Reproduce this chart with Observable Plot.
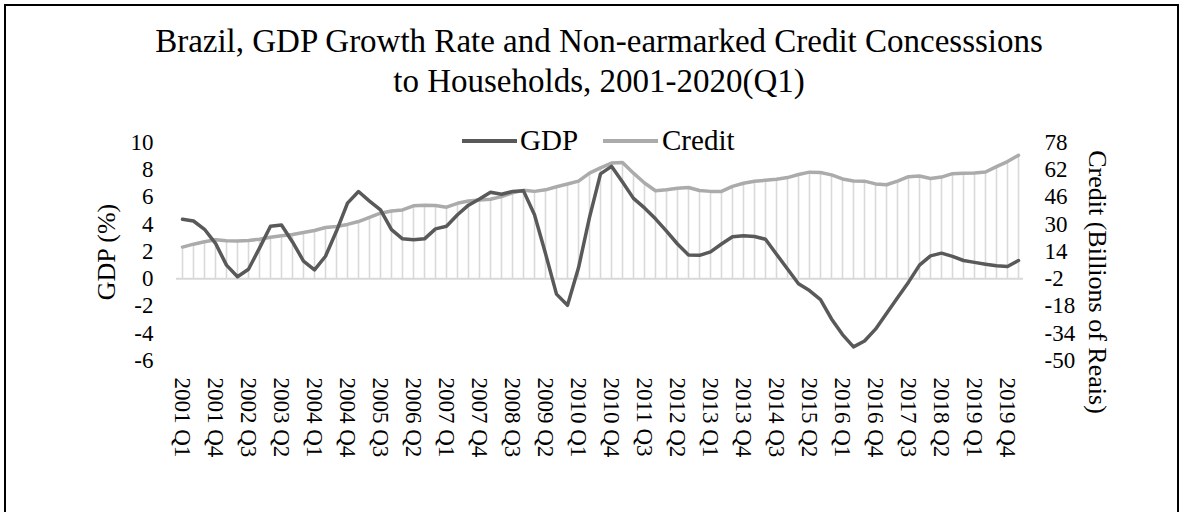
<!DOCTYPE html>
<html>
<head>
<meta charset="utf-8">
<script src="https://cdn.jsdelivr.net/npm/d3@7"></script>
<script src="https://cdn.jsdelivr.net/npm/@observablehq/plot@0.6"></script>
<style>
  html, body { margin: 0; padding: 0; background: #fff; overflow: hidden; }
  body { width: 1183px; height: 512px; position: relative; font-family: 'Liberation Serif', 'Times New Roman', serif; color: #000; }
  .frame { position: absolute; left: 4px; top: 4px; width: 1175px; height: 600px; border: 2px solid #000; box-sizing: border-box; }
  .title { position: absolute; left: 99px; width: 1000px; top: 21px; font-size: 33px; line-height: 40px; text-align: center; white-space: nowrap; }
  .legend { position: absolute; left: 462px; top: 126px; height: 29px; display: flex; align-items: center; font-size: 29px; line-height: 29px; white-space: nowrap; }
  .swatch { display: inline-block; width: 55px; height: 4px; }
  .ytitle { position: absolute; font-size: 26px; white-space: nowrap; line-height: 30px; }
  #chart { position: absolute; left: 0; top: 0; }
</style>
</head>
<body>
<div class="frame"></div>
<div id="chart"></div>
<div class="title">Brazil, GDP Growth Rate and Non-earmarked Credit Concesssions<br>to Households, 2001-2020(Q1)</div>
<div class="legend">
  <span class="swatch" style="background:#595959"></span><span style="margin-left:3px">GDP</span>
  <span class="swatch" style="background:#ABABAB;margin-left:25px"></span><span style="margin-left:4px">Credit</span>
</div>
<div class="ytitle" style="left:107px;top:252px;transform:translate(-50%,-50%) rotate(-90deg)">GDP (%)</div>
<div class="ytitle" style="left:1097px;top:282px;transform:translate(-50%,-50%) rotate(90deg)">Credit (Billions of Reais)</div>
<script>
const quarters = [
  "2001 Q1","2001 Q2","2001 Q3","2001 Q4","2002 Q1","2002 Q2","2002 Q3","2002 Q4",
  "2003 Q1","2003 Q2","2003 Q3","2003 Q4","2004 Q1","2004 Q2","2004 Q3","2004 Q4",
  "2005 Q1","2005 Q2","2005 Q3","2005 Q4","2006 Q1","2006 Q2","2006 Q3","2006 Q4",
  "2007 Q1","2007 Q2","2007 Q3","2007 Q4","2008 Q1","2008 Q2","2008 Q3","2008 Q4",
  "2009 Q1","2009 Q2","2009 Q3","2009 Q4","2010 Q1","2010 Q2","2010 Q3","2010 Q4",
  "2011 Q1","2011 Q2","2011 Q3","2011 Q4","2012 Q1","2012 Q2","2012 Q3","2012 Q4",
  "2013 Q1","2013 Q2","2013 Q3","2013 Q4","2014 Q1","2014 Q2","2014 Q3","2014 Q4",
  "2015 Q1","2015 Q2","2015 Q3","2015 Q4","2016 Q1","2016 Q2","2016 Q3","2016 Q4",
  "2017 Q1","2017 Q2","2017 Q3","2017 Q4","2018 Q1","2018 Q2","2018 Q3","2018 Q4",
  "2019 Q1","2019 Q2","2019 Q3","2019 Q4","2020 Q1"
];
const gdp = [
  4.37, 4.24, 3.63, 2.6, 1.0, 0.15, 0.7, 2.25, 3.85, 3.95,
  2.7, 1.3, 0.65, 1.65, 3.5, 5.55, 6.4, 5.7, 5.05, 3.6,
  2.93, 2.86, 2.93, 3.66, 3.85, 4.7, 5.4, 5.85, 6.35, 6.2,
  6.4, 6.45, 4.7, 1.85, -1.13, -1.95, 0.8, 4.5, 7.7, 8.25,
  7.1, 5.9, 5.2, 4.4, 3.5, 2.55, 1.75, 1.72, 1.97, 2.55,
  3.08, 3.16, 3.1, 2.9, 1.8, 0.72, -0.37, -0.87, -1.53, -2.95,
  -4.1, -5.0, -4.57, -3.7, -2.55, -1.4, -0.25, 1.0, 1.68, 1.88,
  1.64, 1.34, 1.2, 1.07, 0.95, 0.9, 1.34
];
const credit = [
  16.6, 18.3, 19.7, 20.9, 20.3, 20.1, 20.5, 21.2, 22.4, 23.2,
  24.0, 25.1, 26.3, 28.1, 28.7, 29.9, 31.6, 34.1, 36.5, 37.8,
  38.4, 40.8, 41.2, 41.0, 40.0, 42.3, 43.7, 44.3, 44.7, 46.2,
  48.4, 49.9, 49.3, 50.2, 52.0, 53.6, 55.3, 60.0, 63.1, 65.9,
  66.3, 60.0, 54.2, 49.7, 50.2, 51.1, 51.6, 49.8, 49.3, 49.3,
  52.2, 54.1, 55.3, 55.8, 56.4, 57.4, 59.2, 60.6, 60.4, 59.0,
  56.6, 55.4, 55.3, 53.7, 53.2, 55.3, 57.9, 58.3, 56.9, 57.7,
  59.7, 59.9, 60.1, 60.7, 63.8, 66.8, 70.5
];
const xTickLabels = [
  "2001 Q1","2001 Q4","2002 Q3","2003 Q2","2004 Q1","2004 Q4","2005 Q3","2006 Q2",
  "2007 Q1","2007 Q4","2008 Q3","2009 Q2","2010 Q1","2010 Q4","2011 Q3","2012 Q2",
  "2013 Q1","2013 Q4","2014 Q3","2015 Q2","2016 Q1","2016 Q4","2017 Q3","2018 Q2",
  "2019 Q1","2019 Q4"
];
const gdpTicks = [-6, -4, -2, 0, 2, 4, 6, 8, 10];
const creditTicks = [-50, -34, -18, -2, 14, 30, 46, 62, 78];

// map secondary (credit) axis onto primary (GDP) axis: -50..78 -> -6..10
const toLeft = c => (c + 2) / 8;
const data = quarters.map((q, i) => ({q, gdp: gdp[i], credit: credit[i]}));

const chart = Plot.plot({
  width: 1183,
  height: 512,
  marginTop: 142,
  marginBottom: 152,
  marginLeft: 176,
  marginRight: 160,
  style: {fontFamily: "'Liberation Serif', 'Times New Roman', serif", fontSize: "23px", color: "#000", background: "transparent", overflow: "visible"},
  x: {type: "point", domain: quarters, padding: 0.5, align: 0.5},
  y: {domain: [-6, 10]},
  marks: [
    Plot.ruleX(data, {x: "q", y1: 0, y2: d => toLeft(d.credit), stroke: "#D9D9D9", strokeWidth: 1.6}),
    Plot.ruleY([0], {stroke: "#D9D9D9", strokeWidth: 1.8}),
    Plot.lineY(data, {x: "q", y: d => toLeft(d.credit), stroke: "#ABABAB", strokeWidth: 3.5}),
    Plot.lineY(data, {x: "q", y: "gdp", stroke: "#595959", strokeWidth: 3.5}),
    Plot.axisX({ticks: xTickLabels, tickRotate: 90, tickSize: 0, tickPadding: 17, label: null, fontSize: 23}),
    Plot.axisY({anchor: "left", ticks: gdpTicks, tickSize: 0, tickPadding: 23, tickFormat: d => String(d), label: null, fontSize: 23}),
    Plot.axisY({anchor: "right", ticks: creditTicks.map(toLeft), tickSize: 0, tickPadding: 21, tickFormat: d => String(Math.round(d * 8 - 2)), label: null, fontSize: 23})
  ]
});
document.getElementById("chart").appendChild(chart);
</script>
</body>
</html>
